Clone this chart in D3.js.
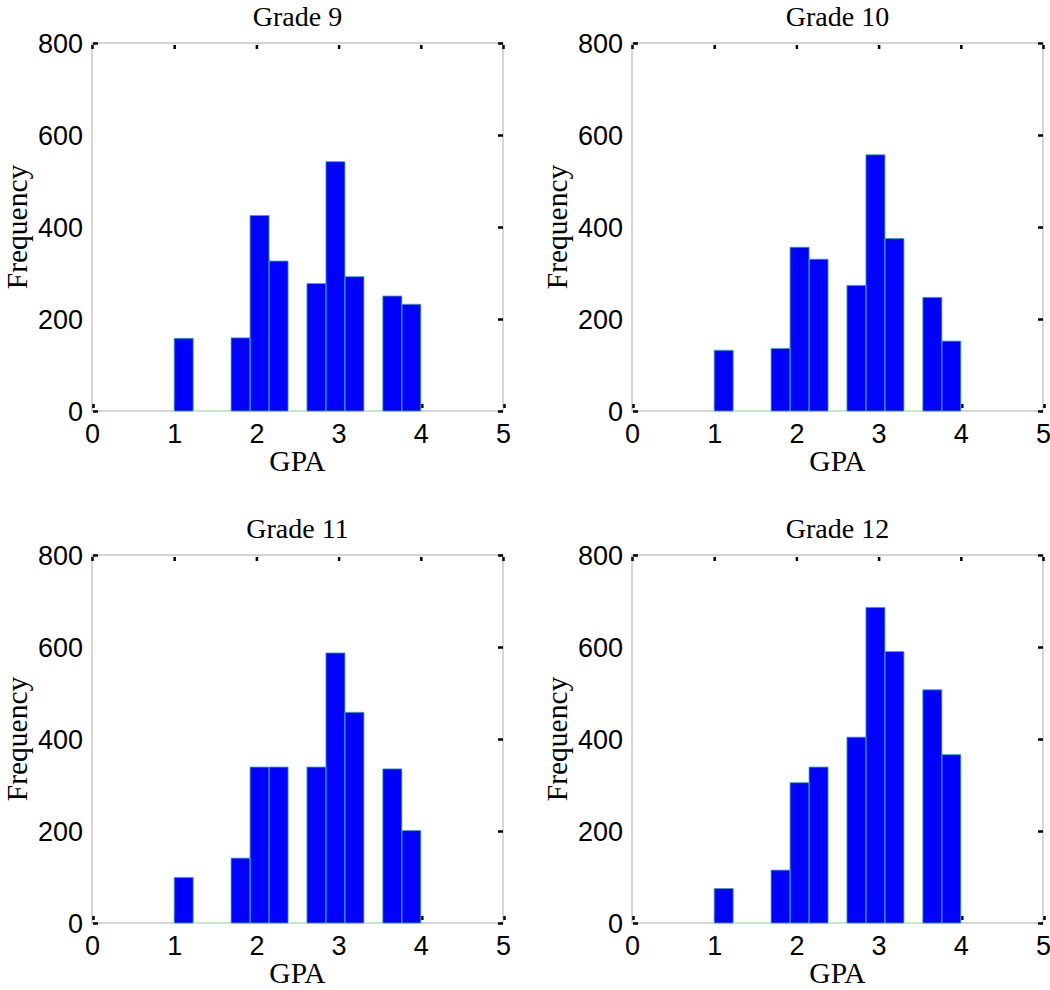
<!DOCTYPE html>
<html>
<head>
<meta charset="utf-8">
<script src="https://cdn.jsdelivr.net/npm/d3@7"></script>
<style>
  html, body { margin: 0; padding: 0; background: #fff; }
  svg { display: block; }
</style>
</head>
<body>
<svg id="chart" width="1050" height="990"></svg>
<script>
// ---- data ----
const titles = ["Grade 9", "Grade 10", "Grade 11", "Grade 12"];
const binEdges = [1.000, 1.231, 1.462, 1.692, 1.923, 2.154, 2.385, 2.615, 2.846, 3.077, 3.308, 3.538, 3.769, 4.000];
const grade9  = [158, 0, 0, 159, 425, 326, 0, 277, 542, 292, 0, 250, 232];
const grade10 = [132, 0, 0, 136, 356, 330, 0, 273, 557, 375, 0, 247, 152];
const grade11 = [ 99, 0, 0, 141, 339, 339, 0, 339, 587, 458, 0, 335, 201];
const grade12 = [ 75, 0, 0, 115, 305, 339, 0, 404, 686, 590, 0, 507, 366];
const xTicks = [0, 1, 2, 3, 4, 5];
const yTicks = [0, 200, 400, 600, 800];
const xLabel = "GPA";
const yLabel = "Frequency";

const series = [grade9, grade10, grade11, grade12];

// ---- layout ----
const svg = d3.select("#chart");
const panelW = 411, panelH = 368;
const origins = [[92, 43], [632, 43], [92, 555], [632, 555]];

series.forEach((counts, k) => {
  const [ox, oy] = origins[k];
  const g = svg.append("g").attr("transform", `translate(${ox},${oy})`);
  const x = d3.scaleLinear().domain([0, 5]).range([0, panelW]);
  const y = d3.scaleLinear().domain([0, 800]).range([panelH, 0]);

  // box
  g.append("rect")
    .attr("x", 0).attr("y", 0).attr("width", panelW).attr("height", panelH)
    .attr("fill", "none").attr("stroke", "#c8c8c8").attr("stroke-width", 1.5);

  // bottom ticks (beneath bars)
  const bottomAxis = d3.axisBottom(x).tickValues(xTicks).tickSize(-4).tickFormat("");
  const gb = g.append("g").attr("transform", `translate(1,${panelH - 3})`).call(bottomAxis);
  gb.select(".domain").remove();
  gb.selectAll(".tick line").attr("stroke", "#000").attr("stroke-width", 2.5);

  // bars
  const bins = counts.map((c, i) => ({ x0: binEdges[i], x1: binEdges[i + 1], c }));
  g.selectAll("rect.bar").data(bins).enter().append("rect")
    .attr("class", "bar")
    .attr("x", d => x(d.x0)).attr("width", d => x(d.x1) - x(d.x0))
    .attr("y", d => y(d.c)).attr("height", d => y(0) - y(d.c))
    .attr("fill", "#0000ff");
  g.selectAll("path.edge").data(bins).enter().append("path")
    .attr("class", "edge")
    .attr("d", d => {
      const p = d3.path();
      p.moveTo(x(d.x0), y(0));
      p.lineTo(x(d.x0), y(d.c));
      p.lineTo(x(d.x1), y(d.c));
      p.lineTo(x(d.x1), y(0));
      p.closePath();
      return p.toString();
    })
    .attr("fill", "none")
    .attr("stroke", d => d.c === 0 ? "#b8f5c0" : "#3aa8a0")
    .attr("stroke-width", 0.8);

  // top ticks (inward)
  const topAxis = d3.axisTop(x).tickValues(xTicks).tickSize(-4).tickFormat("");
  const gt = g.append("g").attr("transform", "translate(0,2)").call(topAxis);
  gt.select(".domain").remove();
  gt.selectAll(".tick line").attr("stroke", "#000").attr("stroke-width", 2.5);

  // right ticks (inward)
  const rightAxis = d3.axisRight(y).tickValues(yTicks).tickSize(-5).tickFormat("");
  const gr = g.append("g").attr("transform", `translate(${panelW},0)`).call(rightAxis);
  gr.select(".domain").remove();
  gr.selectAll(".tick line").attr("stroke", "#000").attr("stroke-width", 2.5);

  // left ticks (only visible at ends in the reference)
  const leftTicks = d3.axisLeft(y).tickValues([yTicks[0], yTicks[yTicks.length - 1]]).tickSize(-5).tickFormat("");
  const gl = g.append("g").attr("transform", "translate(1,0)").call(leftTicks);
  gl.select(".domain").remove();
  gl.selectAll(".tick line").attr("stroke", "#000").attr("stroke-width", 2.5);

  // tick labels
  const xl = d3.axisBottom(x).tickValues(xTicks).tickSize(0).tickPadding(0).tickFormat(d3.format("d"));
  const gxl = g.append("g").attr("transform", `translate(0,${panelH})`).call(xl);
  gxl.select(".domain").remove();
  gxl.selectAll("text")
    .attr("y", 32).attr("dy", null)
    .attr("font-family", "'Liberation Sans', Arial, sans-serif")
    .attr("font-size", 27).attr("fill", "#000");

  const yl = d3.axisLeft(y).tickValues(yTicks).tickSize(0).tickPadding(9).tickFormat(d3.format("d"));
  const gyl = g.append("g").call(yl);
  gyl.select(".domain").remove();
  gyl.selectAll("text")
    .attr("dy", "0.36em")
    .attr("font-family", "'Liberation Sans', Arial, sans-serif")
    .attr("font-size", 27).attr("fill", "#000");

  // title
  g.append("text")
    .attr("x", panelW / 2).attr("y", -17)
    .attr("text-anchor", "middle")
    .attr("font-family", "'Liberation Serif', 'Times New Roman', serif")
    .attr("font-size", 28).attr("fill", "#000")
    .text(titles[k]);

  // x label
  g.append("text")
    .attr("x", panelW / 2).attr("y", panelH + 60)
    .attr("text-anchor", "middle")
    .attr("font-family", "'Liberation Serif', 'Times New Roman', serif")
    .attr("font-size", 29.5).attr("fill", "#000")
    .text(xLabel);

  // y label
  g.append("text")
    .attr("transform", `translate(-65,${panelH / 2}) rotate(-90)`)
    .attr("text-anchor", "middle")
    .attr("font-family", "'Liberation Serif', 'Times New Roman', serif")
    .attr("font-size", 29.5).attr("fill", "#000")
    .text(yLabel);
});
</script>
</body>
</html>
